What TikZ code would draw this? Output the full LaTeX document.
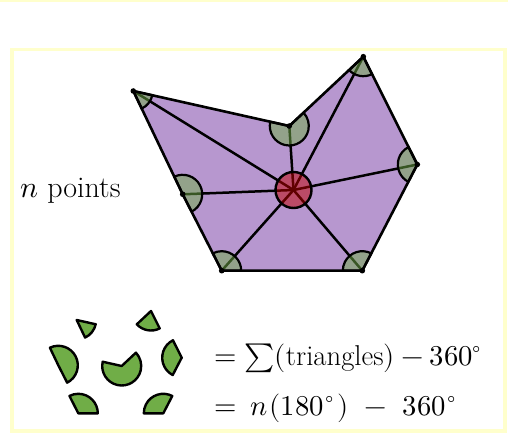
\documentclass[tikz,border=0pt]{standalone}
\usepackage{unicode-math}
\usetikzlibrary{calc}
\definecolor{frameY}{RGB}{255,255,204}
\definecolor{polyP}{RGB}{183,151,207}
\definecolor{angG}{RGB}{112,173,71}
\definecolor{ctrR}{RGB}{192,0,0}
\newcommand\angsec[6]{% vertex, prev, next, placement, radius, style
  \path[#6] let \p1=($(#2)-(#1)$), \p2=($(#3)-(#1)$),
    \n1={atan2(\y1,\x1)}, \n2={atan2(\y2,\x2)}, \n3={mod(\n2-\n1+720,360)} in
    (#4) -- ++(\n1:#5) arc[start angle=\n1, delta angle=\n3, radius=#5] -- cycle;
}
\begin{document}
\begin{tikzpicture}[x=1pt,y=-1pt,
  edge/.style={draw=black, line width=2.6pt, line join=round, line cap=round},
  diag/.style={draw=black, line width=2.5pt},
  sector/.style={fill=angG, fill opacity=0.5, draw=black, line width=2.2pt},
  piece/.style={fill=angG, draw=black, line width=2.4pt, line join=round},
  center/.style={fill=ctrR, fill opacity=0.5, draw=black, line width=2.4pt},
  vdot/.style={fill=black},
  lbl/.style={inner sep=0pt, font=\fontsize{30}{36}\selectfont},
  eqlbl/.style={inner sep=0pt, font=\fontsize{28.7}{34}\selectfont}]
\useasboundingbox (0,0) rectangle (508,435);
\fill[white] (0,0) rectangle (508,435);
\fill[frameY] (0,0) rectangle (508,2);
\draw[frameY, line width=3.5pt] (11.8,49.5) rectangle (505,431.2);
% polygon vertices
\coordinate (V1) at (133.3,91);
\coordinate (V2) at (289.3,126);
\coordinate (V3) at (363.3,56.7);
\coordinate (V4) at (417.3,164.5);
\coordinate (V5) at (362.3,270.7);
\coordinate (V6) at (221.7,270.7);
\coordinate (V7) at (182.7,194.3);
\coordinate (C) at (293.5,190);
% fill
\fill[polyP] (V1) -- (V2) -- (V3) -- (V4) -- (V5) -- (V6) -- (V7) -- cycle;
% diagonals
\foreach \v in {V1,V2,V3,V4,V5,V6,V7} \draw[diag] (\v) -- (C);
% angle sectors
\angsec{V1}{V7}{V2}{V1}{19.5pt}{sector}
\angsec{V2}{V1}{V3}{V2}{19.5pt}{sector}
\angsec{V3}{V2}{V4}{V3}{19.5pt}{sector}
\angsec{V4}{V3}{V5}{V4}{19.5pt}{sector}
\angsec{V5}{V4}{V6}{V5}{19.5pt}{sector}
\angsec{V6}{V5}{V7}{V6}{19.5pt}{sector}
\angsec{V7}{V6}{V1}{V7}{19.5pt}{sector}
% centre circle
\path[center] (C) circle[radius=18pt];
% outline
\path[edge] (V1) -- (V2) -- (V3) -- (V4) -- (V5) -- (V6) -- (V7) -- cycle;
\foreach \v in {V1,V2,V3,V4,V5,V6,V7} \fill[vdot] (\v) circle[radius=2.8pt];
% rearranged pieces
\coordinate (P1) at (76.7,320);
\coordinate (P2) at (151,311);
\coordinate (P3) at (58.3,365.3);
\coordinate (P4) at (121.7,366);
\coordinate (P5) at (181.7,357.7);
\coordinate (P6) at (78.3,413.3);
\coordinate (P7) at (163.3,413.3);
\angsec{V1}{V7}{V2}{P1}{19.5pt}{piece}
\angsec{V3}{V2}{V4}{P2}{19.5pt}{piece}
\angsec{V7}{V6}{V1}{P3}{19.5pt}{piece}
\angsec{V2}{V1}{V3}{P4}{19.5pt}{piece}
\angsec{V4}{V3}{V5}{P5}{19.5pt}{piece}
\angsec{V6}{V5}{V7}{P6}{19.5pt}{piece}
\angsec{V5}{V4}{V6}{P7}{19.5pt}{piece}
% labels
\node[lbl, anchor=base west] (npts) at (20,198) {$n$ points};
\node[eqlbl, anchor=base west] (eq1) at (214,365) {$=\sum(\mathrm{triangles})-360^\circ$};
\node[eqlbl, anchor=base west] (eq2) at (214,415) {$=\mskip4mu n\mskip1mu(180\mkern1mu^\circ\mkern2mu)\mskip6mu-\mskip6mu360\mkern1mu^\circ$};
\end{tikzpicture}
\end{document}
